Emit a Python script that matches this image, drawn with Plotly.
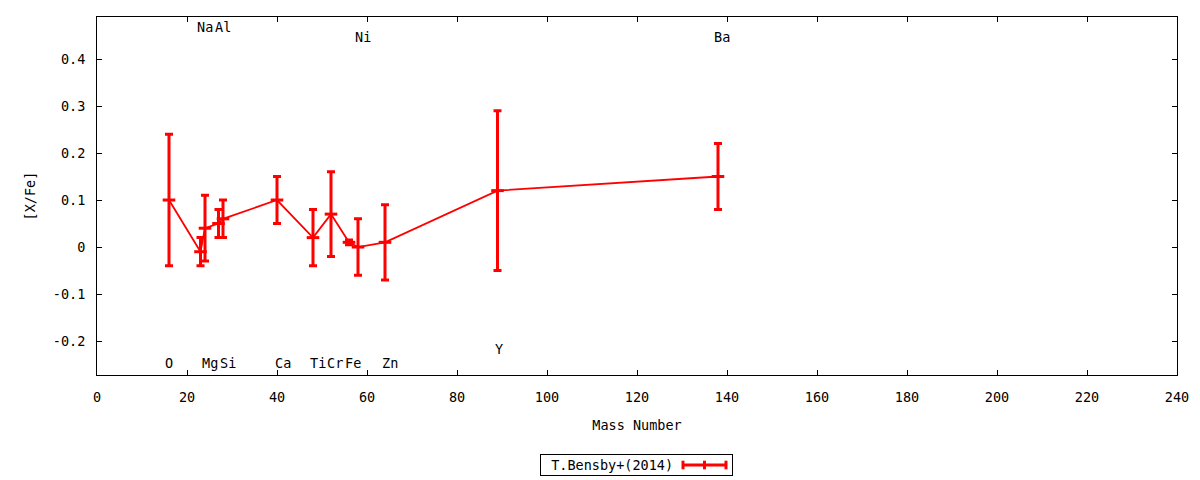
import plotly.graph_objects as go

# abundances [X/Fe] vs mass number
elements = ["O", "Na", "Mg", "Al", "Si", "Ca", "Ti", "Cr", "Fe", "Ni", "Zn", "Y", "Ba"]
mass = [16, 23, 24, 27, 28, 40, 48, 52, 56, 58, 64, 89, 138]
xfe = [0.10, -0.01, 0.04, 0.05, 0.06, 0.10, 0.02, 0.07, 0.01, 0.00, 0.01, 0.12, 0.15]
err = [0.14, 0.03, 0.07, 0.03, 0.04, 0.05, 0.06, 0.09, 0.005, 0.06, 0.08, 0.17, 0.07]

# where the element names sit
label_x = [16, 23.9, 25.1, 28, 29, 41.4, 49.1, 52.9, 56.9, 59, 65.1, 89.3, 138.9]
label_y = [-0.247, 0.468, -0.247, 0.468, -0.247, -0.247, -0.247, -0.247, -0.247,
           0.447, -0.247, -0.217, 0.447]

x_ticks = list(range(0, 241, 20))
y_ticks = [-0.2, -0.1, 0, 0.1, 0.2, 0.3, 0.4]
y_tick_labels = ["-0.2", "-0.1", "0", "0.1", "0.2", "0.3", "0.4"]

FONT = "DejaVu Sans Mono"
FS = 13.5
RED = "#ff0000"

fig = go.Figure()
fig.add_trace(go.Scatter(
    x=mass, y=xfe, mode="lines+markers", name="T.Bensby+(2014)",
    line=dict(color=RED, width=1.8),
    marker=dict(symbol="line-ew", size=9, line=dict(color=RED, width=3)),
    error_y=dict(type="data", array=err, color=RED, thickness=3, width=4),
    showlegend=False,
))

for el, lx, ly in zip(elements, label_x, label_y):
    fig.add_annotation(x=lx, y=ly, text=el, showarrow=False,
                       font=dict(family=FONT, size=FS, color="black"))

# hand-made gnuplot style key below the plot
fig.add_annotation(xref="paper", yref="paper", x=0.4102, y=-0.25,
                   xanchor="left", yanchor="middle",
                   text="&nbsp;T.Bensby+(2014)" + "&nbsp;" * 7, showarrow=False,
                   bordercolor="black", borderwidth=1, borderpad=2,
                   font=dict(family=FONT, size=FS, color="black"))
lx0, lx1, ly0 = 0.5426, 0.5824, -0.2514
fig.add_shape(type="line", xref="paper", yref="paper", x0=lx0, x1=lx1, y0=ly0, y1=ly0,
              line=dict(color=RED, width=3))
for cx in (lx0, (lx0 + lx1) / 2, lx1):
    fig.add_shape(type="line", xref="paper", yref="paper", x0=cx, x1=cx,
                  y0=ly0 - 0.012, y1=ly0 + 0.012, line=dict(color=RED, width=3))

axis_common = dict(showline=True, linecolor="black", linewidth=1, mirror="ticks",
                   ticks="inside", ticklen=5, tickcolor="black", showgrid=False,
                   zeroline=False, tickfont=dict(family=FONT, size=FS, color="black"))

fig.update_xaxes(range=[0, 240], tickvals=x_ticks, ticklabelstandoff=10,
                 title=dict(text="Mass Number", standoff=16,
                            font=dict(family=FONT, size=FS, color="black")),
                 **axis_common)
fig.update_yaxes(range=[-0.2723, 0.4894], tickvals=y_ticks, ticktext=y_tick_labels,
                 ticklabelstandoff=8,
                 title=dict(text="[X/Fe]", standoff=14,
                            font=dict(family=FONT, size=FS, color="black")),
                 **axis_common)

fig.update_layout(width=1200, height=480, plot_bgcolor="white", paper_bgcolor="white",
                  margin=dict(l=97, r=23, t=17, b=105),
                  font=dict(family=FONT, size=FS, color="black"))

fig.write_html("out.html", config={"displayModeBar": False},
               post_script="document.body.style.margin='0';")
